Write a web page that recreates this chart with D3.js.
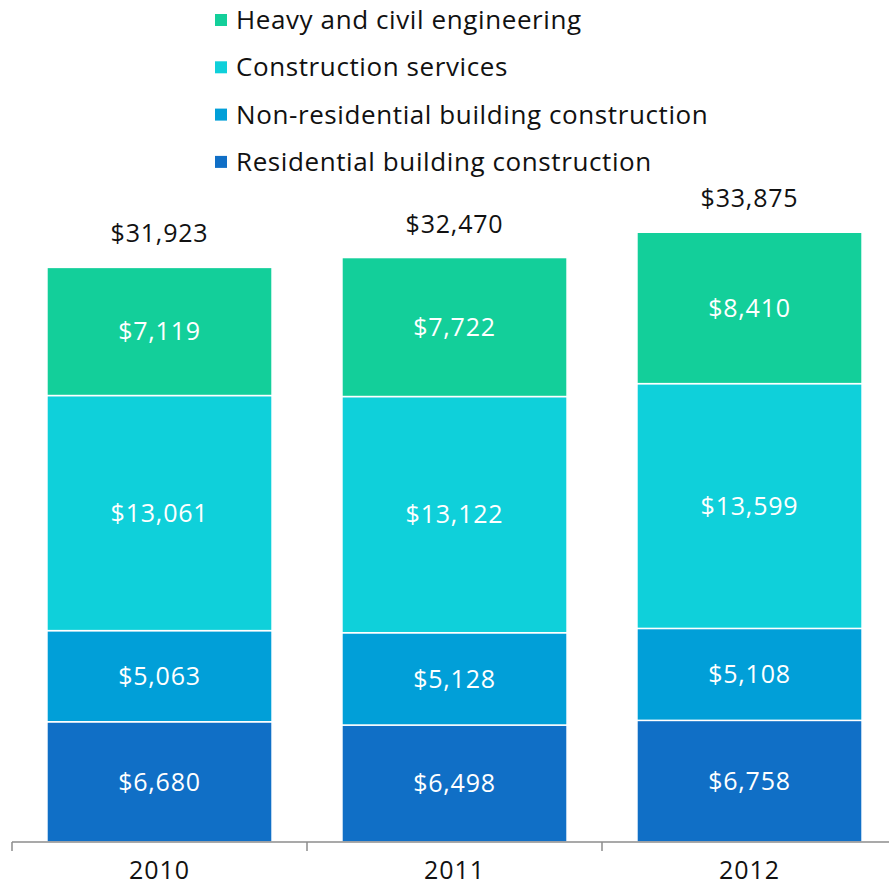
<!DOCTYPE html>
<html>
<head>
<meta charset="utf-8">
<script src="https://cdn.jsdelivr.net/npm/d3@7"></script>
<style>
  body { margin: 0; background: #fff; }
  text { font-family: "Open Sans", "DejaVu Sans", sans-serif; }
</style>
</head>
<body>
<svg id="chart"></svg>
<script>
// Stacked bars: construction revenue by segment

const years = ["2010", "2011", "2012"];
const seriesNames = [
    "Residential building construction",
    "Non-residential building construction",
    "Construction services",
    "Heavy and civil engineering"
];
const residential = [6680, 6498, 6758];
const nonResidential = [5063, 5128, 5108];
const services = [13061, 13122, 13599];
const heavyCivil = [7119, 7722, 8410];
const totals = [31923, 32470, 33875];

const colors = ["#106fc6", "#019fd8", "#0fd0da", "#13cf9a"];

const width = 889;
const height = 888;
const baseY = 842;

const svg = d3.select("#chart")
    .attr("width", width)
    .attr("height", height);

// build rows for the stack
const rows = years.map((y, i) => ({
    year: y,
    [seriesNames[0]]: residential[i],
    [seriesNames[1]]: nonResidential[i],
    [seriesNames[2]]: services[i],
    [seriesNames[3]]: heavyCivil[i],
    total: totals[i]
}));

const stacked = d3.stack().keys(seriesNames)(rows);

const xAxisScale = d3.scaleBand()
    .domain(years)
    .range([12, 897])
    .padding(0);

const xScale = d3.scaleBand()
    .domain(years)
    .range([12, 897])
    .paddingInner(0.237)
    .paddingOuter(0.1185);

const yScale = d3.scaleLinear()
    .domain([0, 40000])
    .range([baseY, 122]);

const color = d3.scaleOrdinal().domain(seriesNames).range(colors);

// bars
const layers = svg.selectAll(".layer")
    .data(stacked)
    .enter()
    .append("g")
    .attr("class", "layer")
    .attr("fill", d => color(d.key));

layers.selectAll("rect")
    .data(d => d)
    .enter()
    .append("rect")
    .attr("x", d => xScale(d.data.year))
    .attr("y", d => yScale(d[1]))
    .attr("width", xScale.bandwidth())
    .attr("height", d => yScale(d[0]) - yScale(d[1]))
    .attr("stroke", "#fff")
    .attr("stroke-width", 1.5);

// segment labels
layers.selectAll(".seg-label")
    .data(d => d)
    .enter()
    .append("text")
    .attr("class", "seg-label")
    .attr("x", d => xScale(d.data.year) + xScale.bandwidth() / 2)
    .attr("y", d => (yScale(d[0]) + yScale(d[1])) / 2)
    .attr("dy", "0.35em")
    .attr("fill", "#fff")
    .style("font-size", "25px")
    .style("letter-spacing", "0.8px")
    .style("text-anchor", "middle")
    .text(d => "$" + d3.format(",")(d[1] - d[0]));

// totals
svg.selectAll(".total-label")
    .data(rows)
    .enter()
    .append("text")
    .attr("class", "total-label")
    .attr("x", d => xScale(d.year) + xScale.bandwidth() / 2)
    .attr("y", d => yScale(d.total) - 25)
    .attr("fill", "#111")
    .style("font-size", "25px")
    .style("letter-spacing", "0.8px")
    .style("text-anchor", "middle")
    .text(d => "$" + d3.format(",")(d.total));

// x axis
const axisG = svg.append("g")
    .attr("transform", "translate(0," + baseY + ")");

axisG.call(d3.axisBottom(xAxisScale).tickSize(0).tickPadding(19));
axisG.select(".domain").remove();
axisG.selectAll("text")
    .style("font-family", "\"Open Sans\", \"DejaVu Sans\", sans-serif")
    .style("font-size", "25px")
    .style("letter-spacing", "1px")
    .attr("fill", "#111");

axisG.append("line")
    .attr("x1", 12)
    .attr("x2", width)
    .attr("stroke", "#8c8c8c")
    .attr("stroke-width", 1.5);

axisG.selectAll(".sep")
    .data(years)
    .enter()
    .append("line")
    .attr("class", "sep")
    .attr("x1", d => xAxisScale(d))
    .attr("x2", d => xAxisScale(d))
    .attr("y1", 0)
    .attr("y2", 9)
    .attr("stroke", "#8c8c8c")
    .attr("stroke-width", 1.5);

// legend (top to bottom, reversed order)
const legend = svg.selectAll(".legend")
    .data(seriesNames.slice().reverse())
    .enter()
    .append("g")
    .attr("class", "legend")
    .attr("transform", (d, i) => "translate(215," + (20 + i * 47.3) + ")");

legend.append("rect")
    .attr("x", 0)
    .attr("y", -6)
    .attr("width", 12)
    .attr("height", 12)
    .attr("fill", d => color(d));

legend.append("text")
    .attr("x", 21)
    .attr("dy", "0.35em")
    .attr("fill", "#111")
    .style("font-size", "26px")
    .style("letter-spacing", "0.6px")
    .text(d => d);
</script>
</body>
</html>
